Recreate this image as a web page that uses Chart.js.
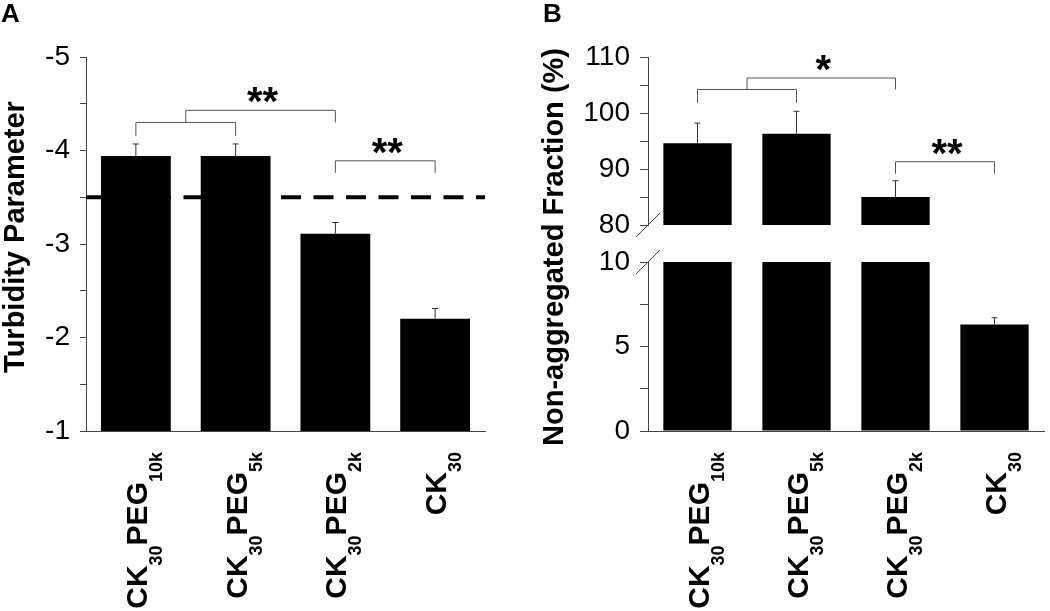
<!DOCTYPE html>
<html>
<head>
<meta charset="utf-8">
<title>Turbidity parameter and non-aggregated fraction</title>
<script src="https://cdn.jsdelivr.net/npm/chart.js@4.4.1/dist/chart.umd.min.js"></script>
<style>
  body { margin: 0; background: #fff; }
  #wrap { position: relative; width: 1050px; height: 611px; overflow: hidden; }
  canvas { position: absolute; top: 0; }
  #chartA { left: 0; }
  #chartB { left: 520px; }
</style>
</head>
<body>
<div id="wrap">
  <canvas id="chartA" width="520" height="611"></canvas>
  <canvas id="chartB" width="530" height="611"></canvas>
</div>
<script>
// Samples, _{...} marks a subscript
const samples = ['CK_{30}PEG_{10k}', 'CK_{30}PEG_{5k}', 'CK_{30}PEG_{2k}', 'CK_{30}'];

// Panel A - turbidity parameter
const turbidity = [-3.94, -3.94, -3.11, -2.20];
const turbidityErr = [0.13, 0.13, 0.12, 0.11];
const turbidityCutoff = -3.5;
const turbidityTicks = [-5, -4, -3, -2, -1];

// Panel B - non-aggregated fraction (%), broken axis
const fraction = [94.6, 96.3, 85.0, 6.3];
const fractionErr = [3.6, 4.0, 2.9, 0.4];
const lowerTicks = [0, 5, 10];
const upperTicks = [80, 90, 100, 110];

// Significance brackets: bar index from/to, bracket level, leg end, stars
const bracketsA = [
    { from: 0, to: 1, level: -4.30, leg: -4.155, stars: '' },
    { from: 0.5, to: 2, level: -4.43, leg: -4.30, stars: '**' },
    { from: 2, to: 3, level: -3.89, leg: -3.76, stars: '**' },
];
const bracketsB = [
    { from: 0, to: 1, level: 104.2, leg: 101.8, stars: '' },
    { from: 0.5, to: 2, level: 106.25, leg: 104.2, stars: '*' },
    { from: 2, to: 3, level: 91.3, leg: 89.15, stars: '**' },
];

const FAMILY = '"Liberation Sans", Arial, Helvetica, sans-serif';
const AXIS_COLOR = '#444';
const MAIN_FONT = 'bold 30px ' + FAMILY;
const SUB_FONT = 'bold 18px ' + FAMILY;

Chart.defaults.font.family = FAMILY;
Chart.defaults.color = '#000';

const plainLabels = samples.map(s => s.replace(/[_{}]/g, ''));

function parseLabel(s) {
    const parts = [];
    const re = /_\{([^}]*)\}|([^_]+)/g;
    let m;
    while ((m = re.exec(s))) {
        parts.push(m[1] !== undefined ? { text: m[1], sub: true } : { text: m[2], sub: false });
    }
    return parts;
}

// rotated label reading upwards, its end sits at yEnd
function drawSampleLabel(ctx, label, x, yEnd) {
    const parts = parseLabel(label);
    let total = 0;
    parts.forEach(p => {
        ctx.font = p.sub ? SUB_FONT : MAIN_FONT;
        p.w = ctx.measureText(p.text).width;
        total += p.w;
    });
    ctx.save();
    ctx.translate(x, yEnd);
    ctx.rotate(-Math.PI / 2);
    ctx.textAlign = 'left';
    ctx.textBaseline = 'alphabetic';
    ctx.fillStyle = '#000';
    let pos = -total;
    parts.forEach(p => {
        ctx.font = p.sub ? SUB_FONT : MAIN_FONT;
        ctx.fillText(p.text, pos, p.sub ? 15 : 0);
        pos += p.w;
    });
    ctx.restore();
}

function drawRotatedTitle(ctx, text, x, yCenter) {
    ctx.save();
    ctx.translate(x, yCenter);
    ctx.rotate(-Math.PI / 2);
    ctx.font = 'bold 29px ' + FAMILY;
    ctx.fillStyle = '#000';
    ctx.textAlign = 'center';
    ctx.textBaseline = 'alphabetic';
    ctx.fillText(text, 0, 0);
    ctx.restore();
}

function drawLetter(ctx, letter, x) {
    ctx.save();
    ctx.font = 'bold 26px ' + FAMILY;
    ctx.fillStyle = '#000';
    ctx.textBaseline = 'alphabetic';
    ctx.fillText(letter, x, 22);
    ctx.restore();
}

function drawErrorBar(ctx, x, yBar, yTop) {
    ctx.save();
    ctx.strokeStyle = '#333';
    ctx.lineWidth = 1;
    ctx.beginPath();
    ctx.moveTo(x, yBar);
    ctx.lineTo(x, yTop);
    ctx.moveTo(x - 3, yTop);
    ctx.lineTo(x + 3, yTop);
    ctx.stroke();
    ctx.restore();
}

function drawBracket(ctx, xs, ys, b) {
    const x0 = xs.getPixelForValue(b.from);
    const x1 = xs.getPixelForValue(b.to);
    const yl = ys.getPixelForValue(b.level);
    const yLeg = ys.getPixelForValue(b.leg);
    ctx.save();
    ctx.strokeStyle = '#555';
    ctx.lineWidth = 1;
    ctx.beginPath();
    ctx.moveTo(x0, yLeg);
    ctx.lineTo(x0, yl);
    ctx.lineTo(x1, yl);
    ctx.lineTo(x1, yLeg);
    ctx.stroke();
    if (b.stars) {
        ctx.font = 'bold 40px ' + FAMILY;
        ctx.fillStyle = '#000';
        ctx.textAlign = 'center';
        ctx.textBaseline = 'alphabetic';
        const m = ctx.measureText(b.stars);
        // keep the ink bottom a few pixels above the bracket
        const baseline = yl - 7 - m.actualBoundingBoxDescent;
        ctx.fillText(b.stars, (x0 + x1) / 2 + 2, baseline);
    }
    ctx.restore();
}

const panelA = {
    id: 'panelA',
    beforeDatasetsDraw(chart) {
        const { ctx, chartArea, scales: { y } } = chart;
        const yPx = y.getPixelForValue(turbidityCutoff);
        ctx.save();
        ctx.strokeStyle = '#000';
        ctx.lineWidth = 4;
        ctx.setLineDash([20, 12.5]);
        ctx.beginPath();
        ctx.moveTo(chartArea.left, yPx);
        ctx.lineTo(chartArea.right, yPx);
        ctx.stroke();
        ctx.restore();
    },
    afterDatasetsDraw(chart) {
        const { ctx, scales: { x, y } } = chart;
        turbidity.forEach((v, i) => {
            const px = x.getPixelForValue(i);
            drawErrorBar(ctx, px, y.getPixelForValue(v), y.getPixelForValue(v - turbidityErr[i]));
        });
        bracketsA.forEach(b => drawBracket(ctx, x, y, b));
    },
    afterDraw(chart) {
        const { ctx, chartArea, scales: { x } } = chart;
        samples.forEach((s, i) => drawSampleLabel(ctx, s, x.getPixelForValue(i) + 11, chartArea.bottom + 21));
        drawRotatedTitle(ctx, 'Turbidity Parameter', 24, 237);
        drawLetter(ctx, 'A', 1);
    }
};

const panelB = {
    id: 'panelB',
    afterDatasetsDraw(chart) {
        const { ctx, chartArea, scales: { x, y, yTop } } = chart;
        fraction.forEach((v, i) => {
            const ys = v > upperTicks[0] ? yTop : y;
            const px = x.getPixelForValue(i);
            drawErrorBar(ctx, px, ys.getPixelForValue(v), ys.getPixelForValue(v + fractionErr[i]));
        });
        bracketsB.forEach(b => drawBracket(ctx, x, yTop, b));

        // axis break marks
        const ax = chartArea.left;
        ctx.save();
        ctx.strokeStyle = AXIS_COLOR;
        ctx.lineWidth = 1;
        ctx.beginPath();
        [yTop.getPixelForValue(upperTicks[0]), y.getPixelForValue(lowerTicks[lowerTicks.length - 1])].forEach(py => {
            ctx.moveTo(ax - 12, py + 12);
            ctx.lineTo(ax + 12, py - 12);
        });
        ctx.stroke();
        ctx.restore();
    },
    afterDraw(chart) {
        const { ctx, chartArea, scales: { x } } = chart;
        samples.forEach((s, i) => drawSampleLabel(ctx, s, x.getPixelForValue(i) + 11, chartArea.bottom + 21));
        drawRotatedTitle(ctx, 'Non-aggregated Fraction (%)', 43, 247);
        drawLetter(ctx, 'B', 23);
    }
};

function valueAxis(extra, width, tickLength) {
    return Object.assign({
        type: 'linear',
        position: 'left',
        afterFit(scale) { scale.width = width; },
        grid: { drawOnChartArea: false, drawTicks: true, tickLength, color: AXIS_COLOR, lineWidth: 1 },
        border: { display: true, color: AXIS_COLOR, width: 1 }
    }, extra);
}

function tickOptions(step, labelled) {
    return {
        autoSkip: false,
        padding: 10,
        font: { size: 28 },
        color: '#000',
        stepSize: step,
        callback: v => labelled.includes(v) ? String(v) : ''
    };
}

const categoryAxis = {
    type: 'category',
    afterFit(scale) { scale.height = 180; },
    ticks: { display: false },
    grid: { display: false },
    border: { display: true, color: AXIS_COLOR, width: 1 }
};

new Chart(document.getElementById('chartA'), {
    type: 'bar',
    data: {
        labels: plainLabels,
        datasets: [{
            data: turbidity,
            backgroundColor: '#000',
            categoryPercentage: 1,
            barPercentage: 0.7
        }]
    },
    options: {
        responsive: false,
        animation: false,
        layout: { padding: { top: 57, right: 35, left: 0, bottom: 0 } },
        plugins: { legend: { display: false }, tooltip: { enabled: false } },
        scales: {
            x: categoryAxis,
            y: valueAxis({
                reverse: true,
                min: turbidityTicks[0],
                max: turbidityTicks[turbidityTicks.length - 1],
                ticks: tickOptions(0.5, turbidityTicks)
            }, 86, 6)
        }
    },
    plugins: [panelA]
});

new Chart(document.getElementById('chartB'), {
    type: 'bar',
    data: {
        labels: plainLabels,
        datasets: [{
            // lower part of every bar, cut at the top of the lower axis
            data: fraction.map(v => Math.min(v, lowerTicks[lowerTicks.length - 1])),
            yAxisID: 'y',
            backgroundColor: '#000',
            grouped: false,
            categoryPercentage: 1,
            barPercentage: 0.69
        }, {
            // upper part, only for bars reaching the upper axis
            data: fraction.map(v => v > upperTicks[0] ? [upperTicks[0], v] : null),
            yAxisID: 'yTop',
            backgroundColor: '#000',
            grouped: false,
            categoryPercentage: 1,
            barPercentage: 0.69
        }]
    },
    options: {
        responsive: false,
        animation: false,
        layout: { padding: { top: 57, right: 6, left: 0, bottom: 0 } },
        plugins: { legend: { display: false }, tooltip: { enabled: false } },
        scales: {
            x: categoryAxis,
            yTop: valueAxis({
                stack: 'frac', stackWeight: 168, weight: 3,
                min: upperTicks[0], max: upperTicks[upperTicks.length - 1],
                ticks: tickOptions(5, upperTicks)
            }, 128, 8),
            yGap: {
                type: 'linear', position: 'left',
                stack: 'frac', stackWeight: 37, weight: 2,
                min: 0, max: 1,
                afterFit(scale) { scale.width = 128; },
                ticks: { display: false },
                grid: { display: false },
                border: { display: false }
            },
            y: valueAxis({
                stack: 'frac', stackWeight: 169, weight: 1,
                min: lowerTicks[0], max: lowerTicks[lowerTicks.length - 1],
                ticks: tickOptions(2.5, lowerTicks)
            }, 128, 8)
        }
    },
    plugins: [panelB]
});
</script>
</body>
</html>
